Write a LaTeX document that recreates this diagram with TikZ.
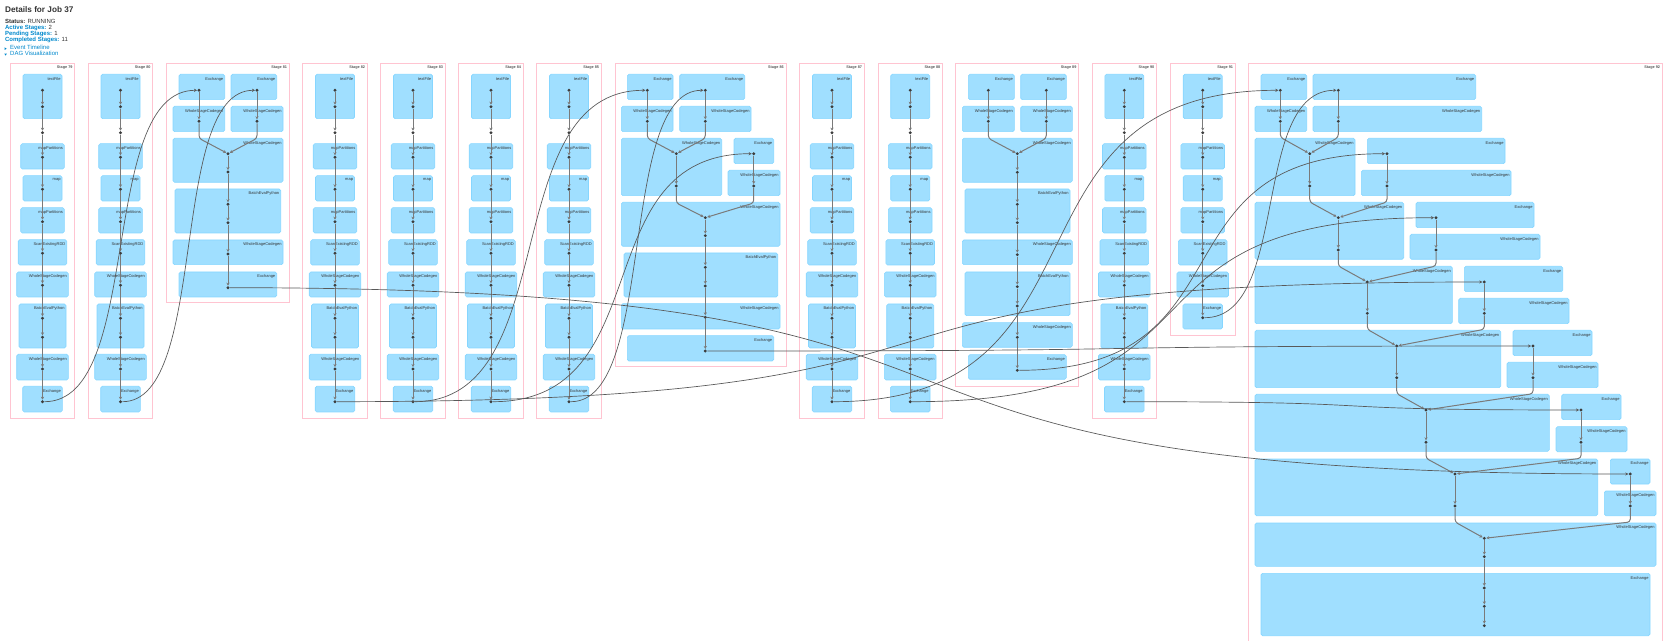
\documentclass[tikz,border=0pt]{standalone}
\usepackage{fontspec}
\setmainfont{Liberation Sans}
\usetikzlibrary{fit,arrows.meta}
\definecolor{clusterblue}{HTML}{A0DFFF}
\definecolor{clusteredge}{HTML}{86D6FF}
\definecolor{stagepink}{HTML}{FFC4D1}
\definecolor{dotgray}{HTML}{3C3C3C}
\definecolor{edgegray}{HTML}{7A7A7A}
\definecolor{linkblue}{HTML}{0088CC}
\definecolor{textgray}{HTML}{333333}
\tikzset{
  stagebox/.style={draw=stagepink, line width=0.35pt, inner sep=0pt},
  cluster/.style={draw=clusteredge, fill=clusterblue, line width=0.3pt, rounded corners=0.8pt, inner sep=0pt},
  op/.style={circle, fill=dotgray, inner sep=0pt, minimum size=1.6pt},
  edge/.style={draw=edgegray, line width=0.5pt, -{Stealth[length=1.5pt,width=1.6pt]}},
  xedge/.style={edge, draw=dotgray!85, line width=0.34pt},
  clab/.style={anchor=north east, xshift=-0.7pt, yshift=-1.5pt, inner sep=0pt, text=textgray, font=\fontsize{2}{2.4}\selectfont},
  slab/.style={anchor=north east, xshift=-1.1pt, yshift=-1.4pt, inner sep=0pt, text=black!65, font=\bfseries\fontsize{1.9}{2.3}\selectfont},
  info/.style={anchor=base west, inner sep=0pt, text=textgray, font=\fontsize{3}{3.6}\selectfont}
}
\begin{document}
\begin{tikzpicture}[x=0.5pt, y=-0.5pt]
\useasboundingbox (0,0) rectangle (1670,641);
% header
\node[anchor=base west, inner sep=0pt, text=textgray, font=\bfseries\fontsize{4.1}{5}\selectfont] (title) at (4.7,12.3) {Details for Job 37};
\node[info] (status) at (4.7,23.8) {\textbf{Status:} RUNNING};
\node[info] (active) at (4.7,29.6) {\textcolor{linkblue}{\textbf{Active Stages:}} 2};
\node[info] (pending) at (4.7,35.4) {\textcolor{linkblue}{\textbf{Pending Stages:}} 1};
\node[info] (completed) at (4.7,41.2) {\textcolor{linkblue}{\textbf{Completed Stages:}} 11};
\node[info, text=linkblue] (timeline) at (9.8,49.5) {Event Timeline};
\node[info, text=linkblue] (dagviz) at (9.8,55.6) {DAG Visualization};
\fill[linkblue] (4.6,47.4) -- (6.7,48.7) -- (4.6,50) -- cycle;
\fill[linkblue] (4.3,53.6) -- (6.9,53.6) -- (5.6,55.6) -- cycle;

% simple stages
\foreach \st/\cx in {79/42.5, 80/120.5, 82/335, 83/413, 84/491, 85/569, 87/832, 88/910.2, 90/1124.3}{
  \node[stagebox, fit={(\cx-32.3,63.3) (\cx+32.3,418.3)}, label={[slab]north east:Stage \st}] (st\st) {};
  \foreach \w/\ya/\yb/\lab [count=\k] in {19.5/74.3/118.7/textFile, 21.8/143.7/169/mapPartitions, 19.5/175.7/201/map, 21.8/207.7/233/mapPartitions, 24.3/239.7/265/ScanExistingRDD, 25.8/272/297/WholeStageCodegen, 23.5/304/348/BatchEvalPython, 25.8/354.3/380/WholeStageCodegen, 19.8/386.3/412/Exchange}
    \node[cluster, fit={(\cx-\w,\ya) (\cx+\w,\yb)}, label={[clab]north east:\lab}] (c\st-\k) {};
  \foreach \y [count=\i] in {90.3,106.7,132.7,157.3,189.3,221.7,253.3,285.3,318.3,337.3,369,401.7}
    \node[op] (n\st-\i) at (\cx,\y) {};
  \foreach \i in {1,...,11}{
    \pgfmathtruncatemacro\j{\i+1}
    \draw[edge] (n\st-\i) -- (n\st-\j);}
}

% stage 91
\node[stagebox, fit={(1170,63.3) (1235.3,335.3)}, label={[slab]north east:Stage 91}] (st91) {};
\foreach \w/\ya/\yb/\lab [count=\k] in {19.5/74.3/118.7/textFile, 21.8/143.7/169/mapPartitions, 19.5/175.7/201/map, 21.8/207.7/233/mapPartitions, 24.3/239.7/265/ScanExistingRDD, 25.8/272/297/WholeStageCodegen, 19.8/304/329/Exchange}
  \node[cluster, fit={(1202.7-\w,\ya) (1202.7+\w,\yb)}, label={[clab]north east:\lab}] (c91-\k) {};
\foreach \y [count=\i] in {90.3,106.7,132.7,157.3,189.3,221.7,253.3,285.7,317.7}
  \node[op] (n91-\i) at (1202.7,\y) {};
\foreach \i in {1,...,8}{
  \pgfmathtruncatemacro\j{\i+1}
  \draw[edge] (n91-\i) -- (n91-\j);}

% stage 81
\node[stagebox, fit={(166.3,63.3) (289.3,302.7)}, label={[slab]north east:Stage 81}] (st81) {};
\foreach \xa/\ya/\xb/\yb/\lab [count=\k] in {179/74.3/224.7/99.7/Exchange, 231/74.3/276.7/99.7/Exchange, 173/106.3/224.7/131.7/WholeStageCodegen, 231/106.3/283/131.7/WholeStageCodegen, 173/138.3/283/182.3/WholeStageCodegen, 175/189/280.7/233/BatchEvalPython, 173/240/283/264.7/WholeStageCodegen, 179/272/276.7/297/Exchange}
  \node[cluster, fit={(\xa,\ya) (\xb,\yb)}, label={[clab]north east:\lab}] (c81-\k) {};
\foreach \x/\y [count=\i] in {199/90.3, 257/90.3, 199/121.3, 257/121.3, 228/153.7, 228/172, 228/204.3, 228/222.7, 228/254, 228/287.7}
  \node[op] (n81-\i) at (\x,\y) {};
\foreach \a/\b in {1/3, 2/4, 5/6, 6/7, 7/8, 8/9, 9/10}
  \draw[edge] (n81-\a) -- (n81-\b);
\foreach \a/\b in {3/5, 4/5}
  \draw[edge, rounded corners=1.5pt] (n81-\a) -- ++(0,17) -- (n81-\b);

% stage 86
\node[stagebox, fit={(615,63.3) (786,366.7)}, label={[slab]north east:Stage 86}] (st86) {};
\foreach \xa/\ya/\xb/\yb/\lab [count=\k] in {627.3/74.3/673/99.7/Exchange, 679.7/74.3/744.7/99.7/Exchange, 621.3/106.3/673/131.7/WholeStageCodegen, 679.7/106.3/751/131.7/WholeStageCodegen, 621.3/138.3/721.7/195.7/WholeStageCodegen, 734/138.3/773.7/163.7/Exchange, 728/170.3/780/195.7/WholeStageCodegen, 621.3/202.3/780/246.3/WholeStageCodegen, 624/253/777.7/297/BatchEvalPython, 621.3/303.7/780/329/WholeStageCodegen, 627.3/335.7/773.7/361/Exchange}
  \node[cluster, fit={(\xa,\ya) (\xb,\yb)}, label={[clab]north east:\lab}] (c86-\k) {};
\foreach \x/\y [count=\i] in {647.3/90.3, 705.3/90.3, 647.3/121.3, 705.3/121.3, 676.3/153.7, 676.3/186, 753.7/153.7, 753.7/186, 705.3/217.7, 705.3/235.7, 705.3/267.3, 705.3/286, 705.3/317.3, 705.3/351}
  \node[op] (n86-\i) at (\x,\y) {};
\foreach \a/\b in {1/3, 2/4, 5/6, 7/8, 9/10, 10/11, 11/12, 12/13, 13/14}
  \draw[edge] (n86-\a) -- (n86-\b);
\foreach \a/\b in {3/5, 4/5, 6/9, 8/9}
  \draw[edge, rounded corners=1.5pt] (n86-\a) -- ++(0,17) -- (n86-\b);

% stage 89
\node[stagebox, fit={(955.7,63.3) (1078.7,386)}, label={[slab]north east:Stage 89}] (st89) {};
\foreach \xa/\ya/\xb/\yb/\lab [count=\k] in {968.3/74.3/1014.3/99.7/Exchange, 1020.7/74.3/1066.3/99.7/Exchange, 962.3/106.3/1014.3/131.7/WholeStageCodegen, 1020.7/106.3/1072.3/131.7/WholeStageCodegen, 962.3/138.3/1072.3/182.3/WholeStageCodegen, 965/189/1070/233/BatchEvalPython, 962.3/240/1072.3/264.7/WholeStageCodegen, 965/272/1070/315.7/BatchEvalPython, 962.3/322.7/1072.3/347.3/WholeStageCodegen, 968.3/354.7/1066.3/379.3/Exchange}
  \node[cluster, fit={(\xa,\ya) (\xb,\yb)}, label={[clab]north east:\lab}] (c89-\k) {};
\foreach \x/\y [count=\i] in {988.3/90.3, 1046.3/90.3, 988.3/121.3, 1046.3/121.3, 1017.3/153.7, 1017.3/172.3, 1017.3/204.3, 1017.3/222.7, 1017.3/254.7, 1017.3/286.7, 1017.3/306, 1017.3/337.3, 1017.3/370.3}
  \node[op] (n89-\i) at (\x,\y) {};
\foreach \a/\b in {1/3, 2/4, 5/6, 6/7, 7/8, 8/9, 9/10, 10/11, 11/12, 12/13}
  \draw[edge] (n89-\a) -- (n89-\b);
\foreach \a/\b in {3/5, 4/5}
  \draw[edge, rounded corners=1.5pt] (n89-\a) -- ++(0,17) -- (n89-\b);

% stage 92
\node[stagebox, fit={(1248.3,63.3) (1662.3,660)}, label={[slab]north east:Stage 92}] (st92) {};
\foreach \xa/\ya/\xb/\yb/\lab [count=\k] in {
  1261/74.3/1306.7/99.7/Exchange, 1313/74.3/1475.7/99.7/Exchange,
  1255/106.3/1306.7/131.7/WholeStageCodegen, 1313/106.3/1481.7/131.7/WholeStageCodegen,
  1255/138.3/1355/195.7/WholeStageCodegen, 1367.3/138.3/1505/163.7/Exchange, 1361.3/170.3/1511/195.7/WholeStageCodegen,
  1255/202.3/1403.7/259.3/WholeStageCodegen, 1416/202.3/1534/227.7/Exchange, 1410/234.3/1540/259.3/WholeStageCodegen,
  1255/266.3/1452.3/323.7/WholeStageCodegen, 1464.3/266.3/1562.7/291.7/Exchange, 1458.7/298.3/1569/323.7/WholeStageCodegen,
  1255/330.3/1500.7/387.7/WholeStageCodegen, 1513/330.3/1592/355.7/Exchange, 1507/362.3/1598/387.7/WholeStageCodegen,
  1255/394.3/1549.3/451.3/WholeStageCodegen, 1561.7/394.3/1621/419.7/Exchange, 1556/426.7/1627/451.7/WholeStageCodegen,
  1255/459/1597.7/515.7/WholeStageCodegen, 1610.3/459/1650/484/Exchange, 1604.3/491/1656/515.7/WholeStageCodegen,
  1255/523/1656/566.3/WholeStageCodegen, 1261/573.3/1650/635.7/Exchange}
  \node[cluster, fit={(\xa,\ya) (\xb,\yb)}, label={[clab]north east:\lab}] (c92-\k) {};
\foreach \x/\y [count=\i] in {1280.3/90.3, 1338.3/90.3, 1280.3/121.3, 1338.3/121.3, 1309.7/153.7, 1309.7/186, 1387/153.7, 1387/186, 1338.3/217.7, 1338.3/250, 1436/217.7, 1436/250, 1367.3/282, 1367.3/313.3, 1484.3/282, 1484.3/313.3, 1396.7/346, 1396.7/377.7, 1533/346, 1533/377.7, 1426/410, 1426/442.3, 1581/410, 1581/442.3, 1455/474, 1455/506, 1630.3/474, 1630.3/506, 1484.3/538.3, 1484.3/556.7, 1484.3/588, 1484.3/606.3, 1484.3/625.7}
  \node[op] (n92-\i) at (\x,\y) {};
\foreach \a/\b in {1/3, 2/4, 5/6, 7/8, 9/10, 11/12, 13/14, 15/16, 17/18, 19/20, 21/22, 23/24, 25/26, 27/28, 29/30, 30/31, 31/32, 32/33}
  \draw[edge] (n92-\a) -- (n92-\b);
\foreach \a/\b in {3/5, 4/5, 6/9, 8/9, 10/13, 12/13, 14/17, 16/17, 18/21, 20/21, 22/25, 24/25, 26/29, 28/29}
  \draw[edge, rounded corners=1.5pt] (n92-\a) -- ++(0,16) -- (n92-\b);

% shuffle edges between stages
\foreach \a/\b/\k in {n79-12/n81-1/102, n80-12/n81-2/89, n83-12/n86-1/152, n85-12/n86-2/88, n84-12/n86-7/171, n81-10/n92-27/911, n82-12/n92-15/747, n86-14/n92-19/538, n87-12/n92-1/291, n88-12/n92-11/342, n89-13/n92-7/240, n90-12/n92-23/297, n91-9/n92-2/88}
  \draw[xedge] (\a) .. controls +(\k,0) and +(-\k,0) .. (\b);
\end{tikzpicture}
\end{document}
